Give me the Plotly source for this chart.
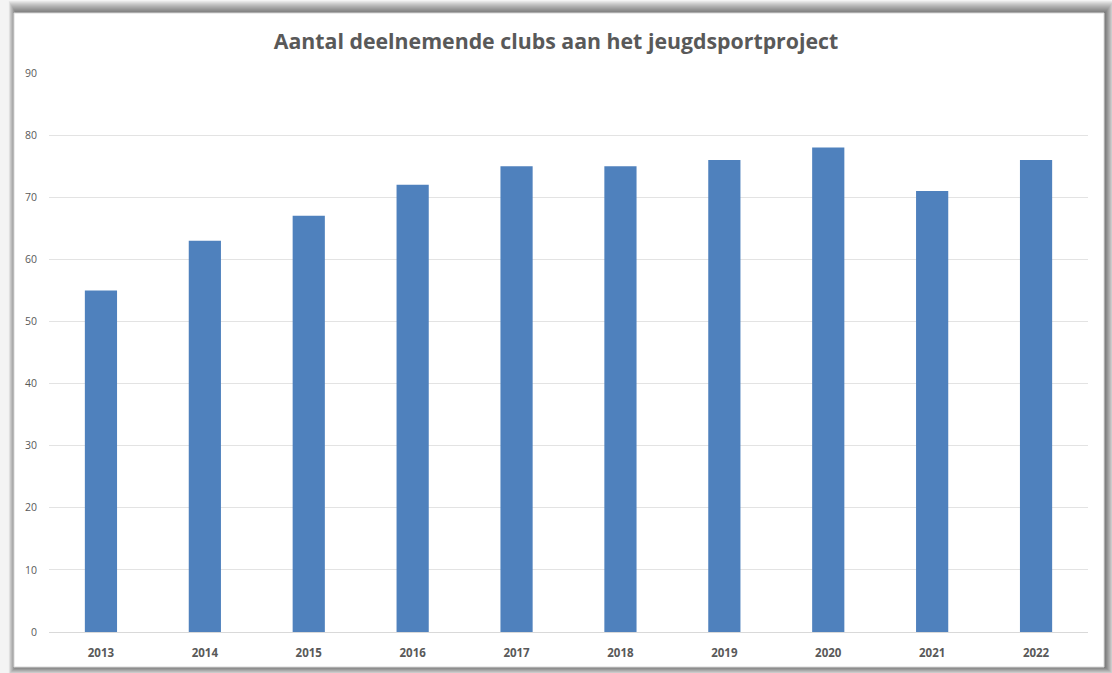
import plotly.graph_objects as go

years = ["2013", "2014", "2015", "2016", "2017", "2018", "2019", "2020", "2021", "2022"]
clubs = [55, 63, 67, 72, 75, 75, 76, 78, 71, 76]
title_text = "Aantal deelnemende clubs aan het jeugdsportproject"

W, H = 1112, 673
ML, MR, MT, MB = 49, 24, 73, 41
PW = W - ML - MR
PH = H - MT - MB


def px(x):
    return (x - ML) / PW


def py(y):
    return (H - MB - y) / PH


shapes = []
# soft shadow around the chart box
for i in range(12):
    g = 12 - i
    shapes.append(dict(
        type="rect", xref="paper", yref="paper", layer="below",
        x0=px(14 - g * 0.6 + 2), x1=px(1104 + g * 0.7 + 1),
        y0=py(667 + g * 0.6), y1=py(13 - g * 1.0),
        fillcolor="rgba(0,0,0,0.05)", line=dict(width=0),
    ))
# white chart box
shapes.append(dict(
    type="rect", xref="paper", yref="paper", layer="below",
    x0=px(14), x1=px(1104), y0=py(667), y1=py(13),
    fillcolor="white", line=dict(color="#d9d9d9", width=1),
))

fig = go.Figure(go.Bar(
    x=years, y=clubs, marker=dict(color="#4f81bd", line=dict(width=0)),
    width=0.31,
))

fig.update_layout(
    width=W, height=H,
    margin=dict(l=ML, r=MR, t=MT, b=MB),
    paper_bgcolor="#f4f4f4",
    plot_bgcolor="rgba(0,0,0,0)",
    showlegend=False,
    shapes=shapes,
    title=dict(
        text="<b>" + title_text + "</b>",
        x=0.5, xanchor="center", xref="container",
        y=1 - 42 / H, yanchor="middle", yref="container",
        font=dict(family="Open Sans", size=21.3, color="#595959"),
    ),
    bargap=0.69,
)
fig.update_xaxes(
    type="category",
    tickfont=dict(family="Open Sans", size=11.5, color="#595959", weight="bold"),
    ticks="outside", ticklen=10, tickcolor="rgba(0,0,0,0)",
    showgrid=False, showline=False, zeroline=False,
)
fig.update_yaxes(
    range=[0, 90], dtick=10,
    tickfont=dict(family="Open Sans", size=10.5, color="#595959"),
    ticks="outside", ticklen=9, tickcolor="rgba(0,0,0,0)",
    showgrid=True, gridcolor="#e3e3e3", gridwidth=1,
    zeroline=True, zerolinecolor="#d9d9d9", zerolinewidth=1,
    showline=False,
)

fig.write_html(
    "out.html",
    config={"displayModeBar": False},
    post_script="document.body.style.margin='0';document.body.style.padding='0';document.body.style.overflow='hidden';",
)
